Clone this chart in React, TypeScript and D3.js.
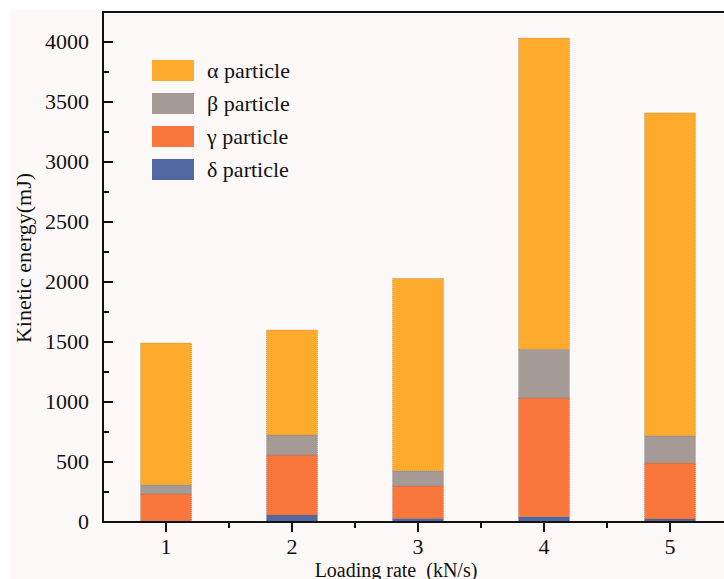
import React from "react";
import * as d3 from "d3";

// Loading rates (kN/s) on the x axis
const rates = [1, 2, 3, 4, 5];
// Kinetic energy (mJ) of each particle group, stacked bottom to top: δ, γ, β, α
const deltaE = [10, 58, 30, 44, 25];
const gammaE = [223, 500, 270, 989, 467];
const betaE = [77, 167, 127, 406, 227];
const alphaE = [1182, 875, 1603, 2594, 2691];

const seriesNames = ["δ particle", "γ particle", "β particle", "α particle"];
const seriesColors = ["#5168A3", "#F9763D", "#A59A95", "#FDAA2D"];
const yTicks = [0, 500, 1000, 1500, 2000, 2500, 3000, 3500, 4000];

const W = 724;
const H = 579;
const left = 103;
const top = 12;
const bottom = 522;
const font = "Liberation Serif, DejaVu Serif, serif";
const fs = 22;

export default function App() {
  const x = d3.scaleLinear().domain([0.5, 5.5]).range([left, left + 630]);
  const y = d3.scaleLinear().domain([0, 4250]).range([bottom, top]);

  const rows = rates.map((r, i) => ({
    rate: r,
    d: deltaE[i],
    g: gammaE[i],
    b: betaE[i],
    a: alphaE[i],
  }));
  const stack = d3.stack<any>().keys(["d", "g", "b", "a"]);
  const layers = stack(rows);
  const barW = 51;

  const minorY = d3.range(250, 4250, 500);
  const minorX = d3.range(1.5, 5.5, 1);

  const legendOrder = [3, 2, 1, 0];

  return (
    <svg
      width={W}
      height={H}
      fontFamily={font}
      style={{ position: "absolute", left: 0, top: 0 }}
    >
      <rect x={0} y={0} width={W} height={H} fill="#fff" />
      <rect x={10} y={10} width={W - 10} height={H - 10} fill="#FDF9F8" />

      {/* stacked bars */}
      {layers.map((layer, li) => (
        <g key={li}>
          {layer.map((seg, i) => (
            <rect
              key={i}
              x={x(rates[i]) - barW / 2}
              y={y(seg[1])}
              width={barW}
              height={y(seg[0]) - y(seg[1])}
              fill={seriesColors[li]}
              stroke="#555"
              strokeWidth={0.6}
              strokeOpacity={0.5}
              strokeDasharray="1 1"
            />
          ))}
        </g>
      ))}

      {/* frame */}
      <line x1={left} x2={W} y1={top} y2={top} stroke="#111" strokeWidth={2} />
      <line x1={left} x2={left} y1={top - 1} y2={bottom + 1} stroke="#111" strokeWidth={2} />
      <line x1={left} x2={W} y1={bottom} y2={bottom} stroke="#111" strokeWidth={2} />

      {/* y ticks (inward) */}
      {yTicks.map((t) => (
        <g key={t}>
          <line x1={left} x2={left + 10} y1={y(t)} y2={y(t)} stroke="#111" strokeWidth={2} />
          <text
            x={left - 14}
            y={y(t)}
            dy="0.34em"
            textAnchor="end"
            fontFamily={font}
            fontSize={fs}
            fill="#111"
          >
            {t}
          </text>
        </g>
      ))}
      {minorY.map((t) => (
        <line key={t} x1={left} x2={left + 6} y1={y(t)} y2={y(t)} stroke="#111" strokeWidth={2} />
      ))}

      {/* x ticks (outward) */}
      {rates.map((r) => (
        <g key={r}>
          <line x1={x(r)} x2={x(r)} y1={bottom} y2={bottom + 10} stroke="#111" strokeWidth={2} />
          <text x={x(r)} y={554} textAnchor="middle" fontFamily={font} fontSize={fs} fill="#111">
            {r}
          </text>
        </g>
      ))}
      {minorX.map((t) => (
        <line key={t} x1={x(t)} x2={x(t)} y1={bottom} y2={bottom + 6} stroke="#111" strokeWidth={2} />
      ))}

      {/* axis titles */}
      <text x={396} y={577} textAnchor="middle" fontFamily={font} fontSize={20} fill="#111">
        {"Loading rate\u00a0 (kN/s)"}
      </text>
      <text
        transform={`translate(31, 258) rotate(-90)`}
        textAnchor="middle"
        fontFamily={font}
        fontSize={fs}
        fill="#111"
      >
        Kinetic energy(mJ)
      </text>

      {/* legend */}
      {legendOrder.map((si, k) => (
        <g key={si} transform={`translate(152, ${60 + k * 33})`}>
          <rect width={42} height={21} fill={seriesColors[si]} />
          <text x={55} y={10.5} dy="0.34em" fontFamily={font} fontSize={fs} fill="#111">
            {seriesNames[si]}
          </text>
        </g>
      ))}
    </svg>
  );
}
